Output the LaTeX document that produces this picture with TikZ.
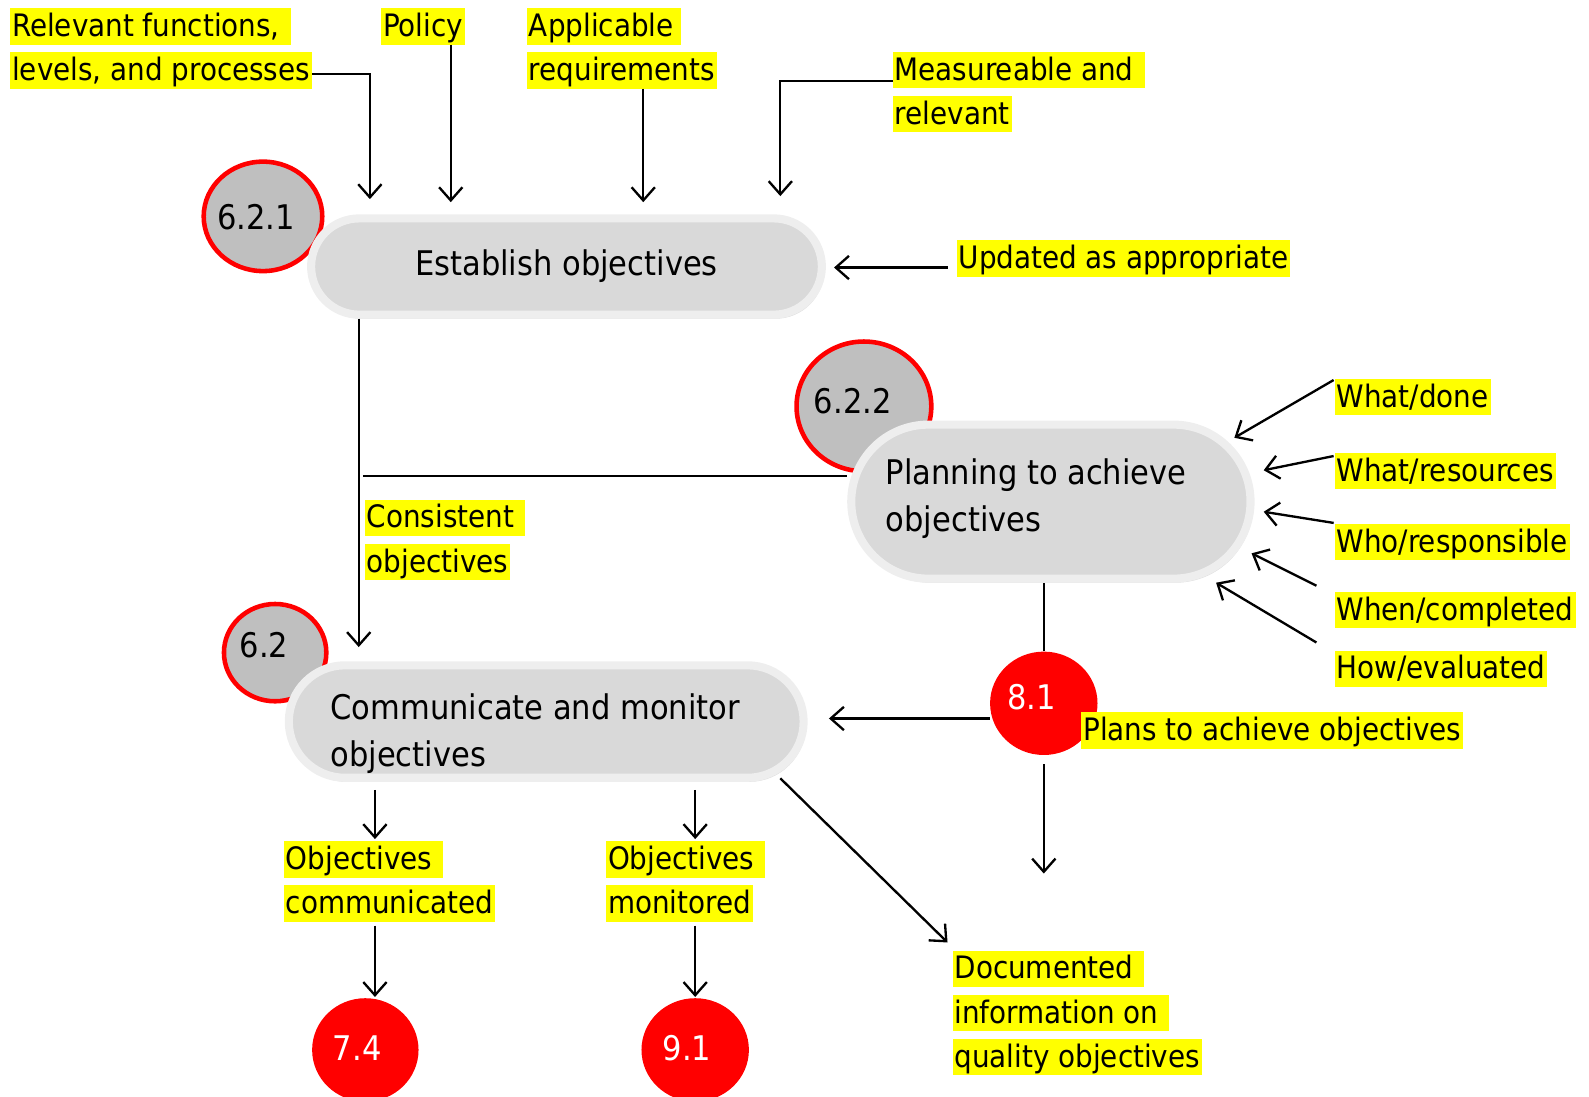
\documentclass[tikz,border=0pt]{standalone}
\usepackage{fontspec}
\setmainfont{DejaVu Sans Condensed}
\usetikzlibrary{arrows.meta,shapes.misc,shapes.geometric,shadows,calc}

\definecolor{hly}{HTML}{FFFF00}
\definecolor{pillfill}{HTML}{D9D9D9}
\definecolor{pillrim}{HTML}{EEEEEE}
\definecolor{tagfill}{HTML}{BFBFBF}
\definecolor{tagred}{HTML}{FF0000}

\setlength{\fboxsep}{0pt}
% one highlighted line of a label
\newcommand\hl[1]{\colorbox{hly}{\hspace{2pt}\rule[-8pt]{0pt}{36pt}#1\hspace{2pt}}}

\tikzset{
  lab/.style={anchor=north west, inner sep=0pt, outer sep=0pt, align=left,
              font=\fontsize{30.5}{43.5}\selectfont},
  pill/.style={rounded rectangle, fill=pillfill, draw=pillrim, line width=8pt,
               inner sep=0pt,
               drop shadow={shadow xshift=2pt, shadow yshift=-4pt, opacity=0.25},
               font=\fontsize{33.5}{47}\selectfont},
  boxtext/.style={inner sep=0pt, align=left, font=\fontsize{33.5}{47}\selectfont},
  greytag/.style={ellipse, fill=tagfill, draw=tagred, line width=4.5pt, inner sep=0pt},
  redtag/.style={ellipse, fill=tagred, inner sep=0pt},
  tagtext/.style={font=\fontsize{33.5}{40}\selectfont, inner sep=0pt},
  redtext/.style={tagtext, text=white},
  link/.style={line width=2.3pt, black},
  arr/.style={link, -{Straight Barb[length=13pt,width=23pt]}},
}

\begin{document}
\begin{tikzpicture}[x=1pt,y=-1pt]
\useasboundingbox (0,0) rectangle (1568,1082);

% numbered tags behind the process boxes
\node[greytag, minimum width=117pt, minimum height=108pt,
      label={[tagtext,xshift=-7pt,yshift=-1pt]center:6.2.1}] (c621) at (259.5,213.5) {};
\node[greytag, minimum width=133pt, minimum height=128pt,
      label={[tagtext,xshift=-11pt,yshift=5pt]center:6.2.2}] (c622) at (852.5,401) {};
\node[greytag, minimum width=101pt, minimum height=96pt,
      label={[tagtext,xshift=-11pt,yshift=7pt]center:6.2}] (c62) at (271.5,644) {};

% process boxes
\node[pill, minimum width=504pt, minimum height=95pt] (est) at (559,263) {Establish objectives};
\node[pill, minimum width=394pt, minimum height=152pt] (plan) at (1037,495) {};
\node[boxtext, anchor=west] (plant) at (874,492) {Planning to achieve\\objectives};
\node[pill, minimum width=508pt, minimum height=111pt] (comm) at (539,712) {};
\node[boxtext, anchor=west] (commt) at (326,724) {Communicate and monitor\\objectives};

% clause tags
\node[redtag, minimum width=106pt, minimum height=102pt,
      label={[redtext,xshift=-12pt,yshift=6pt]center:8.1}] (r81) at (1030,694) {};
\node[redtag, minimum width=105pt, minimum height=102pt,
      label={[redtext,xshift=-8pt,yshift=2pt]center:7.4}] (r74) at (360.5,1036) {};
\node[redtag, minimum width=106pt, minimum height=102pt,
      label={[redtext,xshift=-8pt,yshift=2pt]center:9.1}] (r91) at (686,1036) {};

% labels
\node[lab] (rel)  at (10,8)     {\hl{Relevant functions,\ }\\\hl{levels, and processes}};
\node[lab] (pol)  at (376,8)    {\hl{Policy}};
\node[lab] (app)  at (520,8)    {\hl{Applicable\,}\\\hl{requirements}};
\node[lab] (meas) at (881,51)   {\hl{Measureable and\ }\\\hl{relevant}};
\node[lab] (upd)  at (944,237)  {\hl{Updated as appropriate}};
\node[lab] (cons) at (360,493)  {\hl{Consistent\ }\\\hl{objectives}};
\node[lab] (wd)   at (1317,374) {\hl{What/done}};
\node[lab] (wr)   at (1317,447) {\hl{What/resources}};
\node[lab] (who)  at (1317,517) {\hl{Who/responsible}};
\node[lab] (when) at (1317,584) {\hl{When/completed}};
\node[lab] (how)  at (1317,642) {\hl{How/evaluated}};
\node[lab] (plans) at (1067,703) {\hl{Plans to achieve objectives}};
\node[lab] (objc) at (280,830)  {\hl{Objectives\ }\\\hl{communicated}};
\node[lab] (objm) at (598,830)  {\hl{Objectives\ }\\\hl{monitored}};
\node[lab] (doc)  at (940,938)  {\hl{Documented\ }\\\hl{information on\ }\\\hl{quality objectives}};

% inputs to "Establish objectives"
\draw[arr, shorten >=15pt] ([yshift=-25pt]rel.east) -| (365,0 |- est.north);
\draw[arr, shorten >=12pt] ([xshift=-14pt]pol.south east) -- ([xshift=-14pt]pol.south east |- est.north);
\draw[arr, shorten >=12pt] ([xshift=21pt]app.south) -- ([xshift=21pt]app.south |- est.north);
\draw[arr, shorten >=18pt] ([yshift=11pt]meas.west) -| (770,0 |- est.north);
\draw[arr, shorten <=9pt, shorten >=8pt] ([yshift=-9pt]upd.west) -- ([yshift=-9pt]upd.west -| est.east);

% flow between the boxes
\draw[arr, shorten >=14pt] (354,0 |- est.south) -- (354,0 |- comm.north);
\coordinate (tee) at (358,470);
\draw[link] (tee) -- (tee -| plan.west);

% inputs to "Planning to achieve objectives"
\coordinate (in1) at (1218,432);
\coordinate (in2) at (1247,464);
\coordinate (in3) at (1247,505);
\coordinate (in4) at (1235,546);
\coordinate (in5) at (1200,575);
\draw[arr] ([shift={(-1pt,-1pt)}]wd.north west) -- (in1);
\draw[arr] ([shift={(-1pt,-3pt)}]wr.north west) -- (in2);
\draw[arr] ([shift={(-1pt,1pt)}]who.north west) -- (in3);
\draw[arr] ([shift={(-18pt,6pt)}]when.north west) -- (in4);
\draw[arr] ([shift={(-18pt,8pt)}]how.north west) -- (in5);

% plans and their outputs
\draw[link] (r81.north) -- (r81.north |- plan.south);
\draw[arr, shorten >=21pt] ([yshift=-15pt]r81.west) -- ([yshift=-15pt]r81.west -| comm.east);
\coordinate (out81) at (1030,862);
\draw[arr, shorten <=9pt] (r81.south) -- (out81);

% outputs of "Communicate and monitor objectives"
\coordinate (diag) at (770,768);
\draw[arr] (diag) -- ([shift={(-5pt,8pt)}]doc.north west);
\draw[arr, shorten <=8pt, shorten >=2pt] (370,0 |- comm.south) -- (370,0 |- objc.north);
\draw[arr, shorten <=8pt, shorten >=2pt] (686,0 |- comm.south) -- (686,0 |- objm.north);
\draw[arr, shorten <=4pt, shorten >=1pt] (370,0 |- objc.south) -- (370,0 |- r74.north);
\draw[arr, shorten <=4pt, shorten >=1pt] (686,0 |- objm.south) -- (686,0 |- r91.north);
\end{tikzpicture}
\end{document}
